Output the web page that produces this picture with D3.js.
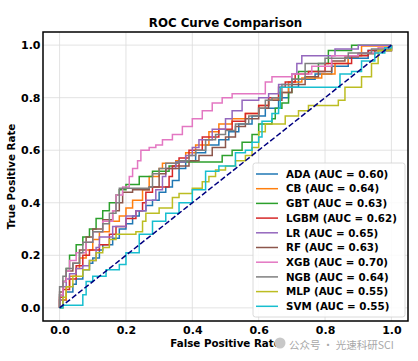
<!DOCTYPE html>
<html>
<head>
<meta charset="utf-8">
<script src="https://cdn.jsdelivr.net/npm/d3@7"></script>
<style>
  body { margin: 0; background: #fff; }
  svg { display: block; font-family: "DejaVu Sans", sans-serif; }
</style>
</head>
<body>
<div id="container"></div>
<script>
// model names and AUC values from the legend
const models = ['ADA', 'CB', 'GBT', 'LGBM', 'LR', 'RF', 'XGB', 'NGB', 'MLP', 'SVM'];
const aucs = [0.60, 0.64, 0.63, 0.62, 0.65, 0.63, 0.70, 0.64, 0.55, 0.55];
const colors = ['#1f77b4', '#ff7f0e', '#2ca02c', '#d62728', '#9467bd', '#8c564b', '#e377c2', '#7f7f7f', '#bcbd22', '#17becf'];

// ROC corners [fpr, tpr]
const rocADA = [[0,0],[0.01,0.03],[0.02,0.06],[0.04,0.09],[0.05,0.11],[0.07,0.145],[0.09,0.17],[0.1,0.19],[0.12,0.22],[0.13,0.24],[0.16,0.265],[0.18,0.3],[0.2,0.32],[0.22,0.35],[0.24,0.37],[0.26,0.39],[0.28,0.41],[0.3,0.44],[0.32,0.46],[0.34,0.485],[0.36,0.53],[0.38,0.56],[0.41,0.59],[0.44,0.62],[0.48,0.64],[0.51,0.67],[0.54,0.7],[0.58,0.73],[0.62,0.76],[0.66,0.8],[0.69,0.84],[0.72,0.87],[0.77,0.89],[0.82,0.92],[0.87,0.95],[0.93,0.98],[1,1]];
const rocCB = [[0,0],[0,0.03],[0.02,0.08],[0.03,0.12],[0.05,0.15],[0.06,0.19],[0.08,0.22],[0.1,0.26],[0.12,0.29],[0.15,0.33],[0.18,0.35],[0.2,0.38],[0.22,0.41],[0.25,0.45],[0.27,0.5],[0.3,0.53],[0.31,0.55],[0.35,0.56],[0.38,0.59],[0.41,0.62],[0.45,0.67],[0.48,0.7],[0.52,0.72],[0.56,0.74],[0.6,0.77],[0.63,0.79],[0.66,0.82],[0.69,0.86],[0.73,0.875],[0.79,0.89],[0.83,0.93],[0.87,0.96],[0.91,0.997],[1,1]];
const rocGBT = [[0,0],[0,0.05],[0.01,0.1],[0.02,0.15],[0.03,0.2],[0.05,0.24],[0.07,0.27],[0.09,0.3],[0.11,0.34],[0.13,0.37],[0.15,0.4],[0.17,0.43],[0.18,0.45],[0.2,0.47],[0.24,0.5],[0.28,0.52],[0.33,0.54],[0.35,0.555],[0.48,0.555],[0.49,0.58],[0.52,0.6],[0.55,0.63],[0.58,0.66],[0.6,0.7],[0.64,0.72],[0.65,0.76],[0.67,0.78],[0.69,0.82],[0.7,0.87],[0.72,0.9],[0.78,0.93],[0.81,0.98],[0.88,1],[1,1]];
const rocLGBM = [[0,0],[0,0.04],[0.01,0.07],[0.03,0.11],[0.05,0.16],[0.07,0.2],[0.09,0.22],[0.12,0.24],[0.15,0.28],[0.17,0.31],[0.2,0.34],[0.23,0.37],[0.25,0.4],[0.26,0.44],[0.28,0.46],[0.32,0.46],[0.33,0.5],[0.34,0.54],[0.36,0.57],[0.39,0.6],[0.43,0.65],[0.48,0.68],[0.52,0.71],[0.56,0.74],[0.6,0.77],[0.63,0.8],[0.66,0.84],[0.68,0.86],[0.71,0.89],[0.75,0.9],[0.8,0.93],[0.88,0.96],[0.93,0.98],[1,1]];
const rocLR = [[0,0],[0,0.03],[0.01,0.08],[0.02,0.11],[0.03,0.13],[0.05,0.15],[0.07,0.16],[0.09,0.18],[0.11,0.23],[0.12,0.27],[0.16,0.31],[0.2,0.35],[0.23,0.37],[0.26,0.41],[0.29,0.45],[0.31,0.5],[0.32,0.53],[0.35,0.555],[0.38,0.58],[0.4,0.61],[0.42,0.64],[0.46,0.68],[0.5,0.72],[0.52,0.75],[0.55,0.79],[0.6,0.8],[0.63,0.815],[0.66,0.85],[0.7,0.89],[0.715,0.93],[0.73,0.96],[0.83,0.985],[0.9,1],[1,1]];
const rocRF = [[0,0],[0,0.06],[0.01,0.1],[0.02,0.14],[0.04,0.17],[0.06,0.22],[0.08,0.27],[0.1,0.3],[0.13,0.335],[0.16,0.37],[0.18,0.4],[0.19,0.44],[0.22,0.45],[0.27,0.46],[0.3,0.51],[0.32,0.53],[0.36,0.54],[0.39,0.56],[0.42,0.58],[0.46,0.61],[0.5,0.65],[0.53,0.69],[0.56,0.72],[0.6,0.76],[0.63,0.79],[0.67,0.82],[0.7,0.85],[0.74,0.88],[0.78,0.9],[0.82,0.94],[0.86,0.955],[0.9,0.967],[0.95,0.98],[1,1]];
const rocXGB = [[0,0],[0,0.05],[0.01,0.1],[0.02,0.14],[0.03,0.18],[0.05,0.21],[0.08,0.25],[0.1,0.29],[0.13,0.33],[0.16,0.37],[0.17,0.43],[0.19,0.46],[0.21,0.5],[0.22,0.53],[0.235,0.56],[0.245,0.6],[0.27,0.61],[0.29,0.62],[0.31,0.64],[0.34,0.66],[0.37,0.69],[0.4,0.72],[0.43,0.75],[0.46,0.78],[0.49,0.8],[0.52,0.815],[0.6,0.815],[0.62,0.86],[0.64,0.88],[0.7,0.89],[0.76,0.92],[0.82,0.96],[0.9,0.97],[0.96,0.99],[1,1]];
const rocNGB = [[0,0],[0,0.08],[0.01,0.12],[0.02,0.15],[0.04,0.17],[0.06,0.21],[0.07,0.25],[0.1,0.29],[0.13,0.32],[0.15,0.36],[0.17,0.4],[0.18,0.455],[0.27,0.46],[0.28,0.51],[0.3,0.53],[0.32,0.55],[0.36,0.56],[0.39,0.58],[0.41,0.6],[0.44,0.64],[0.47,0.66],[0.5,0.675],[0.53,0.7],[0.57,0.73],[0.6,0.76],[0.62,0.79],[0.64,0.8],[0.67,0.85],[0.7,0.87],[0.74,0.93],[0.8,0.95],[0.87,0.97],[0.94,0.985],[1,1]];
const rocMLP = [[0,0],[0.01,0.04],[0.02,0.08],[0.04,0.12],[0.07,0.145],[0.09,0.18],[0.11,0.21],[0.13,0.23],[0.15,0.26],[0.17,0.28],[0.23,0.29],[0.25,0.33],[0.26,0.36],[0.3,0.38],[0.34,0.42],[0.36,0.435],[0.4,0.455],[0.43,0.48],[0.45,0.5],[0.47,0.525],[0.5,0.54],[0.53,0.56],[0.56,0.58],[0.58,0.61],[0.6,0.67],[0.62,0.7],[0.68,0.73],[0.72,0.75],[0.75,0.77],[0.84,0.79],[0.86,0.84],[0.91,0.88],[0.94,0.93],[0.96,0.98],[1,1]];
const rocSVM = [[0,0],[0.01,0],[0.01,0.01],[0.07,0.01],[0.07,0.05],[0.08,0.1],[0.1,0.12],[0.14,0.145],[0.18,0.165],[0.2,0.21],[0.24,0.21],[0.24,0.28],[0.28,0.33],[0.32,0.36],[0.36,0.4],[0.4,0.45],[0.44,0.52],[0.48,0.54],[0.53,0.59],[0.56,0.6],[0.58,0.63],[0.6,0.65],[0.61,0.71],[0.64,0.74],[0.66,0.76],[0.665,0.84],[0.84,0.84],[0.845,0.89],[0.88,0.9],[0.91,0.94],[0.95,0.97],[0.98,0.99],[1,1]];
const curves = [rocADA, rocCB, rocGBT, rocLGBM, rocLR, rocRF, rocXGB, rocNGB, rocMLP, rocSVM];

const ticks = [0.0, 0.2, 0.4, 0.6, 0.8, 1.0];

const width = 418, height = 361;
const margin = {top: 32, right: 10, bottom: 40, left: 43};
const plotW = width - margin.left - margin.right;
const plotH = height - margin.top - margin.bottom;

const svg = d3.select('#container')
  .append('svg')
  .attr('width', width)
  .attr('height', height);

const g = svg.append('g')
  .attr('transform', `translate(${margin.left},${margin.top})`);

const x = d3.scaleLinear().domain([-0.05, 1.05]).range([0, plotW]);
const y = d3.scaleLinear().domain([-0.05, 1.05]).range([plotH, 0]);

// grid
g.append('g').selectAll('line').data(ticks).enter().append('line')
  .attr('x1', d => x(d)).attr('x2', d => x(d))
  .attr('y1', 0).attr('y2', plotH)
  .attr('stroke', '#dcdcdc').attr('stroke-width', 0.8);
g.append('g').selectAll('line').data(ticks).enter().append('line')
  .attr('y1', d => y(d)).attr('y2', d => y(d))
  .attr('x1', 0).attr('x2', plotW)
  .attr('stroke', '#dcdcdc').attr('stroke-width', 0.8);

// curves
const line = d3.line()
  .x(d => x(d[0]))
  .y(d => y(d[1]))
  .curve(d3.curveStepAfter);

curves.forEach((c, i) => {
  g.append('path')
    .datum(c)
    .attr('d', line)
    .attr('fill', 'none')
    .attr('stroke', colors[i])
    .attr('stroke-width', 1.5)
    .attr('stroke-linejoin', 'miter');
});

// chance line
g.append('path')
  .datum([[0, 0], [1, 1]])
  .attr('d', d3.line().x(d => x(d[0])).y(d => y(d[1])))
  .attr('stroke', '#000080')
  .attr('stroke-width', 1.5)
  .attr('stroke-dasharray', '5.5,2.4')
  .attr('fill', 'none');

// axes (no visible tick marks, labels close to the frame)
const fmt = d3.format('.1f');
const xAxis = g.append('g')
  .attr('transform', `translate(0,${plotH})`)
  .call(d3.axisBottom(x).tickValues(ticks).tickFormat(fmt).tickSize(0).tickPadding(5));
const yAxis = g.append('g')
  .call(d3.axisLeft(y).tickValues(ticks).tickFormat(fmt).tickSize(0).tickPadding(2.5));
[xAxis, yAxis].forEach(a => {
  a.select('.domain').remove();
  a.selectAll('text')
    .attr('font-size', '11px')
    .attr('font-weight', 'bold')
    .attr('fill', '#000')
    .attr('font-family', 'DejaVu Sans');
});

// frame
g.append('rect')
  .attr('width', plotW).attr('height', plotH)
  .attr('fill', 'none').attr('stroke', '#000').attr('stroke-width', 1.5);

// title and labels
svg.append('text')
  .attr('x', margin.left + plotW / 2).attr('y', 27)
  .attr('text-anchor', 'middle')
  .attr('font-size', '11.8px').attr('font-weight', 'bold')
  .text('ROC Curve Comparison');
svg.append('text')
  .attr('x', margin.left + plotW / 2).attr('y', 346.5)
  .attr('text-anchor', 'middle')
  .attr('font-size', '10.3px').attr('font-weight', 'bold')
  .text('False Positive Rate');
svg.append('text')
  .attr('transform', `translate(15,${margin.top + plotH / 2}) rotate(-90)`)
  .attr('text-anchor', 'middle')
  .attr('font-size', '10.3px').attr('font-weight', 'bold')
  .text('True Positive Rate');

// legend
const legend = svg.append('g').attr('transform', 'translate(253,163)');
legend.append('rect')
  .attr('width', 152).attr('height', 154)
  .attr('rx', 2.5)
  .attr('fill', 'rgba(255,255,255,0.85)')
  .attr('stroke', '#d0d0d0').attr('stroke-width', 0.8);
models.forEach((m, i) => {
  const row = legend.append('g').attr('transform', `translate(0,${11 + i * 14.7})`);
  row.append('line')
    .attr('x1', 3).attr('x2', 25)
    .attr('stroke', colors[i]).attr('stroke-width', 1.5);
  row.append('text')
    .attr('x', 33).attr('y', 3.7)
    .attr('font-size', '10.3px').attr('font-weight', 'bold')
    .text(`${m} (AUC = ${aucs[i].toFixed(2)})`);
});

// watermark
svg.append('circle')
  .attr('cx', 280).attr('cy', 343).attr('r', 5.5)
  .attr('fill', '#c8c8c8');
svg.append('text')
  .attr('x', 289).attr('y', 349)
  .attr('font-size', '10.5px')
  .attr('font-family', '"Noto Sans CJK SC", sans-serif')
  .attr('fill', '#a8a8a8')
  .text('公众号 · 光速科研SCI');
</script>
</body>
</html>
